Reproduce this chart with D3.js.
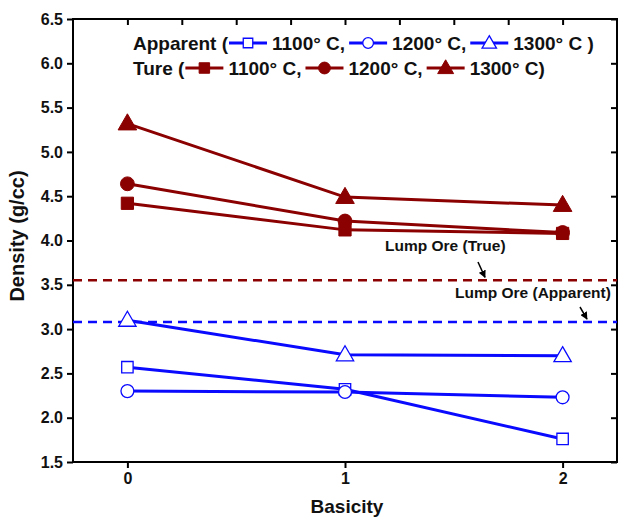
<!DOCTYPE html>
<html lang="en">
<head>
<meta charset="UTF-8">
<title>density vs basicity</title>
<script src="https://d3js.org/d3.v7.min.js"></script>
<style>
    body{margin:0;background:#fff;}
    text{font-family:Arial,"Liberation Sans",sans-serif;font-weight:bold;}
    .tick text{font-size:16px;}
</style>
</head>
<body>
<div id="fig"></div>
<script>
    // data
    let basicity = [0, 1, 2]
    let true1100 = [4.42, 4.12, 4.08]
    let true1200 = [4.64, 4.22, 4.09]
    let true1300 = [5.32, 4.49, 4.40]
    let app1100 = [2.57, 2.32, 1.76]
    let app1200 = [2.30, 2.29, 2.23]
    let app1300 = [3.10, 2.71, 2.70]
    let lumpTrue = 3.55
    let lumpApparent = 3.08
    let yTicks = [1.5, 2.0, 2.5, 3.0, 3.5, 4.0, 4.5, 5.0, 5.5, 6.0, 6.5]
    let xTicks = [0, 1, 2]

    let red = "#8b0000", blue = "#0a0aff"
    let w = 619, h = 518
    let m = {left:73, top:19, right:2, bottom:56}

    let svg = d3.select("#fig").append("svg").attr("width",w).attr("height",h)
    let xScale = d3.scaleLinear().domain([-0.25,2.25]).range([m.left, w-m.right])
    let yScale = d3.scaleLinear().domain([1.5,6.5]).range([h-m.bottom, m.top])

    // axes
    let axBottom = svg.append("g").attr("transform",`translate(0,${h-m.bottom})`)
        .call(d3.axisBottom(xScale).tickValues(xTicks).tickFormat(d3.format("d")).tickSize(6).tickPadding(5))
    let axLeft = svg.append("g").attr("transform",`translate(${m.left},0)`)
        .call(d3.axisLeft(yScale).tickValues(yTicks).tickFormat(d3.format(".1f")).tickSize(6).tickPadding(4))
    let axTop = svg.append("g").attr("transform",`translate(0,${m.top})`)
        .call(d3.axisBottom(xScale).tickValues(d3.range(0,2.01,0.25)).tickFormat("").tickSize(6))
    let axRight = svg.append("g").attr("transform",`translate(${w-m.right},0)`)
        .call(d3.axisLeft(yScale).tickValues(yTicks).tickFormat("").tickSize(6))
    ;[axBottom,axLeft,axTop,axRight].forEach(function(a){
        a.select(".domain").remove()
        a.selectAll("line").attr("stroke","#000").attr("stroke-width",2)
        a.selectAll("text").attr("fill","#111")
    })
    svg.append("rect").attr("x",m.left).attr("y",m.top)
        .attr("width",w-m.left-m.right).attr("height",h-m.top-m.bottom)
        .attr("fill","none").attr("stroke","#000").attr("stroke-width",2)

    // reference lines
    svg.append("line").attr("x1",m.left).attr("x2",w-m.right)
        .attr("y1",yScale(lumpTrue)).attr("y2",yScale(lumpTrue))
        .attr("stroke",red).attr("stroke-width",2.5).attr("stroke-dasharray","9,6")
    svg.append("line").attr("x1",m.left).attr("x2",w-m.right)
        .attr("y1",yScale(lumpApparent)).attr("y2",yScale(lumpApparent))
        .attr("stroke",blue).attr("stroke-width",2.5).attr("stroke-dasharray","9,6")

    function marker(g, shape, color, filled, x, y, size){
        let sym = {square:d3.symbolSquare, circle:d3.symbolCircle, triangle:d3.symbolTriangle}[shape]
        g.append("path").attr("d",d3.symbol().type(sym).size(size)())
            .attr("transform",`translate(${x},${y + (shape=="triangle"?1:0)})`)
            .attr("fill",filled?color:"#fff").attr("stroke",color)
            .attr("stroke-width",filled?1:1.3)
    }

    let series = [
        {v:app1100, shape:"square", color:blue, filled:false},
        {v:app1200, shape:"circle", color:blue, filled:false},
        {v:app1300, shape:"triangle", color:blue, filled:false},
        {v:true1100, shape:"square", color:red, filled:true},
        {v:true1200, shape:"circle", color:red, filled:true},
        {v:true1300, shape:"triangle", color:red, filled:true}
    ]
    let line = d3.line().x(function(d,i){return xScale(basicity[i])}).y(function(d){return yScale(d)})
    series.forEach(function(s){
        svg.append("path").datum(s.v).attr("d",line)
            .attr("fill","none").attr("stroke",s.color).attr("stroke-width",3)
    })
    series.forEach(function(s){
        s.v.forEach(function(d,i){
            marker(svg, s.shape, s.color, s.filled, xScale(basicity[i]), yScale(d), s.filled ? 150 : 130)
        })
    })

    // legend
    function legendRow(y, label, items, closing){
        let x = 133
        let t = svg.append("text").attr("x",x).attr("y",y).attr("font-size",19).attr("fill","#111").text(label)
        x += t.node().getComputedTextLength() + 1
        items.forEach(function(s,i){
            svg.append("line").attr("x1",x).attr("x2",x+38).attr("y1",y-7).attr("y2",y-7)
                .attr("stroke",s.color).attr("stroke-width",3)
            marker(svg, s.shape, s.color, s.filled, x+19, y-7, s.filled ? 110 : 90)
            x += 43
            let tt = svg.append("text").attr("x",x).attr("y",y).attr("font-size",19).attr("fill","#111")
                .text(i<2 ? s.name + "," : s.name + closing)
            x += tt.node().getComputedTextLength() + 4
        })
    }
    legendRow(50, "Apparent (", [
        {shape:"square",color:blue,filled:false,name:"1100° C"},
        {shape:"circle",color:blue,filled:false,name:"1200° C"},
        {shape:"triangle",color:blue,filled:false,name:"1300° C"}], " )")
    legendRow(75, "Ture (", [
        {shape:"square",color:red,filled:true,name:"1100° C"},
        {shape:"circle",color:red,filled:true,name:"1200° C"},
        {shape:"triangle",color:red,filled:true,name:"1300° C"}], ")")

    // annotations
    svg.append("defs").append("marker").attr("id","arr").attr("viewBox","0 0 10 10")
        .attr("refX",9).attr("refY",5).attr("markerWidth",5).attr("markerHeight",5).attr("orient","auto")
        .append("path").attr("d","M0,0L10,5L0,10z").attr("fill","#000")
    svg.append("text").attr("x",385).attr("y",251).attr("font-size",15.5).attr("fill","#111").text("Lump Ore (True)")
    svg.append("line").attr("x1",478).attr("y1",262).attr("x2",485).attr("y2",yScale(lumpTrue)-3)
        .attr("stroke","#000").attr("stroke-width",1.5).attr("marker-end","url(#arr)")
    svg.append("text").attr("x",455).attr("y",298).attr("font-size",15.5).attr("fill","#111").text("Lump Ore (Apparent)")
    svg.append("line").attr("x1",580).attr("y1",307).attr("x2",587).attr("y2",yScale(lumpApparent)-3)
        .attr("stroke","#000").attr("stroke-width",1.5).attr("marker-end","url(#arr)")

    // axis titles
    svg.append("text").attr("x",347).attr("y",513).attr("text-anchor","middle").attr("font-size",19)
        .attr("fill","#111").text("Basicity")
    svg.append("text").attr("transform",`translate(24,236) rotate(-90)`).attr("text-anchor","middle")
        .attr("font-size",20).attr("fill","#111").text("Density (g/cc)")
</script>
</body>
</html>
